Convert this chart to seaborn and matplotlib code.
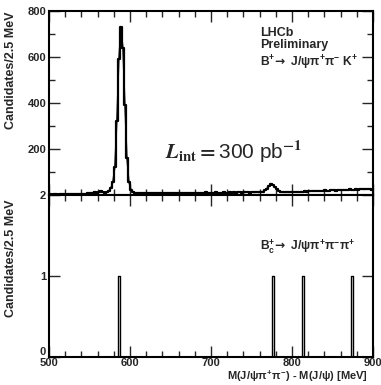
import numpy as np
import pandas as pd
import matplotlib
matplotlib.use("Agg")
import matplotlib.pyplot as plt
from matplotlib.ticker import MultipleLocator
import seaborn as sns

# binning: 2.5 MeV from 500 to 900
bin_lo = 500
bin_hi = 900
bin_w = 2.5

# B+ -> J/psi pi+ pi- K+ : candidates per bin
bplus_counts = (
    # 500 - 570
    [3, 2, 4, 3, 2, 3, 4, 3, 2, 3, 4, 3, 3, 4, 3, 4, 5, 4, 6, 8, 7, 10, 14, 9, 11, 16, 12, 10]
    # 570 - 605 : psi(2S) peak
    + [12, 18, 30, 55, 120, 320, 590, 730, 640, 390, 160, 55, 22, 12]
    # 605 - 760
    + [10, 8, 9, 7, 8, 9, 8, 7, 9, 8,
       7, 8, 9, 8, 7, 8, 9, 10, 8, 9,
       8, 9, 10, 9, 8, 9, 10, 9, 8, 10,
       9, 10, 9, 8, 10, 11, 9, 10, 9, 10,
       11, 10, 9, 10, 11, 10, 9, 11, 10, 11,
       10, 11, 12, 10, 11, 12, 11, 10, 12, 11,
       12, 11]
    # 760 - 790 : X(3872)
    + [12, 15, 20, 28, 38, 50, 44, 34, 24, 17, 13, 12]
    # 790 - 900
    + [11, 12, 11, 13, 12, 13, 14, 12, 15, 14,
       16, 15, 17, 16, 18, 17, 16, 19, 18, 17,
       20, 19, 18, 21, 20, 19, 22, 21, 20, 23,
       22, 21, 24, 22, 23, 25, 23, 24, 26, 24,
       25, 27, 24, 20]
)

# Bc+ -> J/psi pi+ pi- pi+ : single candidates
bc_masses = [586.25, 776.25, 813.75, 873.75]

edges = np.arange(bin_lo, bin_hi + bin_w / 2, bin_w)
centers = (edges[:-1] + edges[1:]) / 2
df_bplus = pd.DataFrame({"mass": centers, "n": bplus_counts})
df_bc = pd.DataFrame({"mass": bc_masses})

sns.set_style("ticks")
plt.rcParams["font.family"] = ["Liberation Sans", "DejaVu Sans"]
plt.rcParams["font.weight"] = "bold"
plt.rcParams["font.size"] = 8
plt.rcParams["axes.labelweight"] = "bold"
plt.rcParams["mathtext.fontset"] = "custom"
plt.rcParams["mathtext.rm"] = "Liberation Sans:bold"
plt.rcParams["mathtext.it"] = "Liberation Sans:bold"
plt.rcParams["mathtext.bf"] = "Liberation Sans:bold"
plt.rcParams["mathtext.sf"] = "DejaVu Sans"

fig = plt.figure(figsize=(3.81, 3.85), dpi=100)
ax1 = fig.add_axes([0.1286, 0.4935, 0.8504, 0.4779])
ax2 = fig.add_axes([0.1286, 0.0727, 0.8504, 0.4208])

# top panel
sns.histplot(data=df_bplus, x="mass", weights="n", binwidth=bin_w,
             binrange=(bin_lo, bin_hi), element="step",
             fill=False, color="black", linewidth=1.6, ax=ax1)
sns.lineplot(data=df_bplus, x="mass", y="n", color="black", linewidth=1.0, ax=ax1)
ax1.set_xlim(bin_lo, bin_hi)
ax1.set_ylim(0, 800)
ax1.set_yticks([200, 400, 600, 800])
ax1.yaxis.set_minor_locator(MultipleLocator(100))
ax1.set_xticks([500, 600, 700, 800, 900])
ax1.xaxis.set_minor_locator(MultipleLocator(20))
ax1.tick_params(labelbottom=False)
ax1.set_xlabel("")
ax1.set_ylabel("Candidates/2.5 MeV", loc="top", fontsize=9)
ax1.yaxis.set_label_coords(-0.099, 1.0)

ax1.text(0.651, 0.864, "LHCb", transform=ax1.transAxes, fontsize=9)
ax1.text(0.651, 0.80, "Preliminary", transform=ax1.transAxes, fontsize=9)
ax1.text(0.651, 0.70,
         r"$\mathrm{B^{+}}\!\mathsf{\rightarrow}\ \mathrm{J/\psi\pi^{+}\pi^{-}\ K^{+}}$",
         transform=ax1.transAxes, fontsize=8.75)
ax1.text(0.357, 0.195, r"$L_{\rm int}=$300 pb$^{-1}$", transform=ax1.transAxes,
         fontsize=15, fontweight="normal", math_fontfamily="stix")

# bottom panel
sns.histplot(data=df_bc, x="mass", binwidth=bin_w, binrange=(bin_lo, bin_hi),
             element="step", fill=False, color="black", linewidth=1.0, ax=ax2)
ax2.set_xlim(bin_lo, bin_hi)
ax2.set_ylim(0, 2)
ax2.set_yticks([0, 1, 2])
ax2.set_xticks([500, 600, 700, 800, 900])
ax2.xaxis.set_minor_locator(MultipleLocator(20))
ax2.set_ylabel("Candidates/2.5 MeV", loc="top", fontsize=9)
ax2.yaxis.set_label_coords(-0.099, 0.97)
ax2.set_xlabel(r"M(J/$\psi\pi^{+}\pi^{-}$) - M(J/$\psi$) [MeV]", loc="right", fontsize=8)
ax2.xaxis.set_label_coords(0.985, -0.071)
ax2.text(0.651, 0.66,
         r"$\mathrm{B_{c}^{+}}\!\mathsf{\rightarrow}\ \mathrm{J/\psi\pi^{+}\pi^{-}\pi^{+}}$",
         transform=ax2.transAxes, fontsize=8.75)

for ax in (ax1, ax2):
    ax.tick_params(which="both", direction="in", top=True, right=True, width=1, pad=2)
    ax.tick_params(which="major", length=8)
    ax.tick_params(which="minor", length=4)
    for sp in ax.spines.values():
        sp.set_linewidth(1.5)
        sp.set_color("black")
ax2.tick_params(axis="x", which="both", pad=1)
ax2.get_yticklabels()[0].set_verticalalignment("bottom")

fig.savefig("out.png", dpi=100)
